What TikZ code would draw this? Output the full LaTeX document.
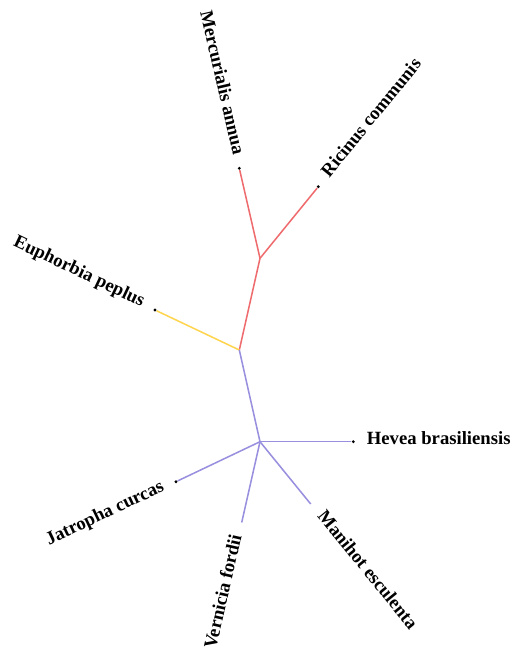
\documentclass[tikz,border=0pt]{standalone}
\usepackage{fontspec}
\setmainfont{Liberation Serif}
\definecolor{cladered}{RGB}{238,108,110}
\definecolor{cladeyellow}{RGB}{255,213,80}
\definecolor{cladeblue}{RGB}{152,144,222}
\begin{document}
\begin{tikzpicture}[x=0.75pt,y=-0.75pt,
  tipdot/.style={circle,fill=black,inner sep=0pt,minimum size=2.4pt},
  taxon/.style={font=\fontsize{14}{16}\selectfont\bfseries,inner sep=0pt,inner xsep=10pt},
  branch/.style={line width=1.15pt}]

\useasboundingbox (0,0) rectangle (515,659);

\coordinate (root) at (260,441.7);
\coordinate (split) at (239.3,350);
\coordinate (ricmer) at (260,258.3);

\node[tipdot] (mer) at (239.3,168.3) {};
\node[tipdot] (ric) at (318.3,186.7) {};
\node[tipdot] (eup) at (155,310) {};
\node[tipdot] (hev) at (353.3,441.7) {};
\node[tipdot] (jat) at (176,481.7) {};
\coordinate (ver) at (241.7,522.5);
\coordinate (man) at (310.7,504);

\draw[branch, cladered] (split) -- (ricmer);
\draw[branch, cladered] (ricmer) -- (mer);
\draw[branch, cladered] (ricmer) -- (ric);
\draw[branch, cladeyellow] (split) -- (eup);
\draw[branch, cladeblue] (split) -- (root);
\draw[branch, cladeblue] (root) -- (hev);
\draw[branch, cladeblue] (root) -- (jat);
\draw[branch, cladeblue] (root) -- (ver);
\draw[branch, cladeblue] (root) -- (man);

\node[taxon, rotate=-77, anchor=mid east] (merlab) at (mer) {Mercurialis annua};
\node[taxon, rotate=50.8, anchor=mid west] (riclab) at (ric) {Ricinus communis};
\node[taxon, rotate=-25.4, anchor=mid east] (euplab) at (eup) {Euphorbia peplus};
\node[taxon, anchor=mid west] (hevlab) at (hev) {Hevea brasiliensis};
\node[taxon, rotate=25.5, anchor=mid east] (jatlab) at (jat) {Jatropha curcas};
\node[taxon, rotate=77.2, anchor=mid east] (verlab) at (ver) {Vernicia fordii};
\node[taxon, rotate=-50.9, anchor=mid west] (manlab) at (man) {Manihot esculenta};

\end{tikzpicture}
\end{document}
